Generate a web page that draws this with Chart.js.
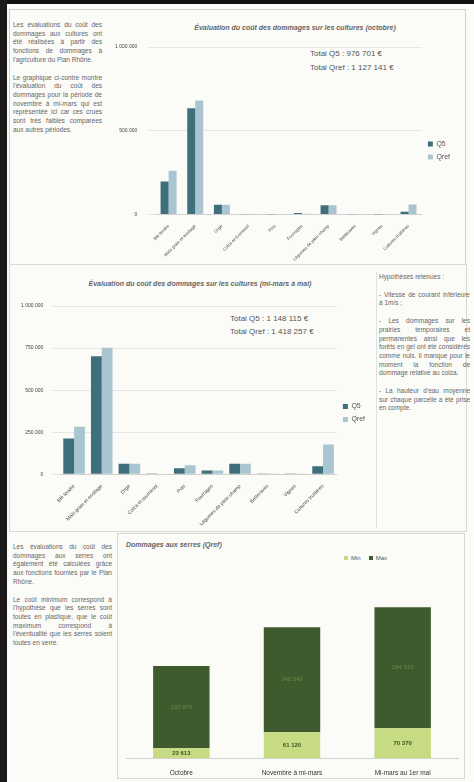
<!DOCTYPE html>
<html><head><meta charset="utf-8">
<script src="https://cdn.jsdelivr.net/npm/chart.js@4"></script>
<style>
html,body{margin:0;padding:0;background:#fbfbf8;}
body{width:474px;height:782px;position:relative;overflow:hidden;font-family:"Liberation Sans",Arial,sans-serif;}
.abs{position:absolute;}
.txt{font-size:6.5px;line-height:8.7px;color:#666;text-align:justify;}
.txt p{margin:0 0 9px 0;}
.title{font-size:7px;font-weight:bold;font-style:italic;color:#666;white-space:nowrap;}
.tot{font-size:8px;color:#555;line-height:14px;white-space:nowrap;}
.leg{font-size:6px;color:#555;white-space:nowrap;}
.leg span.b{display:inline-block;width:4px;height:4px;margin:0 3px 0 8px;vertical-align:middle;}
canvas{position:absolute;}
</style></head>
<body>
<div class="abs" style="left:0;top:0;width:474px;height:4px;background:#111"></div>
<div class="abs" style="left:0;top:0;width:7px;height:782px;background:#1a1a1a"></div>
<div class="abs" style="left:9px;top:9px;width:455px;height:254px;border:1px solid #cfcfcf"></div>
<div class="abs" style="left:9px;top:264px;width:456px;height:266px;border:1px solid #d8d8d8"></div>
<div class="abs" style="left:376px;top:272px;width:0;height:256px;border-left:1px solid #e0e0e0"></div>
<div class="abs" style="left:117px;top:533px;width:346px;height:244px;border:1px solid #d8d8d8"></div>

<div class="abs txt" style="left:13px;top:21px;width:89px;">
<p>Les évaluations du coût des dommages aux cultures ont été réalisées à partir des fonctions de dommages à l'agriculture du Plan Rhône.</p>
<p>Le graphique ci-contre montre l'évaluation du coût des dommages pour la période de novembre à mi-mars qui est représentée ici car ces crues sont très faibles comparées aux autres périodes.</p>
</div>
<div class="abs txt" style="left:379px;top:273px;width:91px;">
<p>Hypothèses retenues :</p>
<p>- Vitesse de courant inférieure à 1m/s ;</p>
<p>- Les dommages sur les prairies temporaires et permanentes ainsi que les forêts en gel ont été considérés comme nuls. Il manque pour le moment la fonction de dommage relative au colza.</p>
<p>- La hauteur d'eau moyenne sur chaque parcelle a été prise en compte.</p>
</div>
<div class="abs txt" style="left:13px;top:543px;width:99px;">
<p>Les évaluations du coût des dommages aux serres ont également été calculées grâce aux fonctions fournies par le Plan Rhône.</p>
<p>Le coût minimum correspond à l'hypothèse que les serres sont toutes en plastique, que le coût maximum correspond à l'éventualité que les serres soient toutes en verre.</p>
</div>

<div class="abs title" style="left:155px;top:24px;width:280px;text-align:center;">Évaluation du coût des dommages sur les cultures (octobre)</div>
<div class="abs tot" style="left:310px;top:47px;">Total Q5 : 976 701 €<br>Total Qref : 1 127 141 €</div>
<div class="abs title" style="left:45px;top:280px;width:310px;text-align:center;">Évaluation du coût des dommages sur les cultures (mi-mars à mai)</div>
<div class="abs tot" style="left:230px;top:312px;line-height:13px;">Total Q5 : 1 148 115 €<br>Total Qref : 1 418 257 €</div>
<div class="abs title" style="left:126px;top:541px;">Dommages aux serres (Qref)</div>
<div class="abs leg" id="leg3" style="left:336px;top:555px;"></div>

<canvas id="c1" width="357" height="229" style="left:105px;top:34px"></canvas>
<canvas id="c2" width="365" height="234" style="left:12px;top:294px"></canvas>
<canvas id="c3" width="346" height="228" style="left:118px;top:554px"></canvas>

<script>
const cultures = ["Blé tendre","Maïs grain et ensilage","Orge","Colza et tournesol","Pois","Fourrages","Légumes de plein champ","Betteraves","Vignes","Cultures fruitières"];
const octQ5   = [198000, 634000, 58000, 2000, 1000, 10000, 55000, 1500, 1000, 16200];
const octQref = [262000, 680000, 58000, 2500, 1500,  5000, 55000, 1500, 1500, 60100];
const marsQ5   = [213000, 701000, 63000, 2000, 35000, 22000, 63000, 1000, 1000, 47115];
const marsQref = [282000, 752000, 63000, 2500, 53000, 22000, 63000, 1500, 2000, 177257];
const periodes = ["Octobre","Novembre à mi-mars","Mi-mars au 1er mai"];
const serresMin = [23613, 61120, 70370];
const serresMax = [192870, 246540, 284310];
const seriesNames = ["Q5","Qref"];
const serresNames = ["Min","Max"];
const serresColors = ["#c7dc82","#3f5a2c"];

const cQ5="#3f6e7d", cQref="#a9c5cf";
const fmt = v => v.toLocaleString("fr-FR").replace(/\u202f|\u00a0/g," ");
Chart.defaults.font.family='"Liberation Sans",Arial,sans-serif';
Chart.defaults.color="#555";
Chart.defaults.animation=false;

function barChart(id, q5, qref, step, catPct, ypad, xfont){
  return new Chart(document.getElementById(id),{
    type:"bar",
    data:{labels:cultures,datasets:[
      {label:seriesNames[0],data:q5,backgroundColor:cQ5,categoryPercentage:catPct,barPercentage:1},
      {label:seriesNames[1],data:qref,backgroundColor:cQref,categoryPercentage:catPct,barPercentage:1}]},
    options:{responsive:false,
      layout:{padding:{top:4,right:2,bottom:0,left:0}},
      plugins:{legend:{position:"right",labels:{boxWidth:5,boxHeight:5,font:{size:7},padding:6}},tooltip:{enabled:false}},
      scales:{
        x:{grid:{display:false},border:{color:"#d0d0d0"},ticks:{font:{size:xfont},maxRotation:45,minRotation:45,padding:1,color:"#444"}},
        y:{min:0,max:1000000,ticks:{stepSize:step,font:{size:5},color:"#444",callback:v=>fmt(v),padding:ypad},grid:{color:"#e6e6e6"},border:{display:false}}
      }}
  });
}
barChart("c1",octQ5,octQref,500000,0.6,10,4.4);
barChart("c2",marsQ5,marsQref,250000,0.78,9,5);

document.getElementById("leg3").innerHTML = serresNames.map((n,i)=>
  '<span class="b" style="background:'+serresColors[i]+'"></span>'+n).join("");

const labelPlugin={id:"vals",afterDatasetsDraw(chart){
  const ctx=chart.ctx;ctx.save();ctx.textAlign="center";ctx.textBaseline="middle";
  chart.data.datasets.forEach((ds,i)=>{
    chart.getDatasetMeta(i).data.forEach((bar,j)=>{
      const y=(bar.y+bar.base)/2;
      ctx.font=(i===0?"bold ":"")+"6px Liberation Sans, Arial";
      ctx.fillStyle=i===0?"#3b5526":"#6a8a4e";
      ctx.fillText(fmt(ds.data[j]),bar.x,y);
    });
  });ctx.restore();}};
new Chart(document.getElementById("c3"),{
  type:"bar",
  data:{labels:periodes,datasets:serresNames.map((n,i)=>({
    label:n,data:i===0?serresMin:serresMax,backgroundColor:serresColors[i],categoryPercentage:0.51,barPercentage:1}))},
  options:{responsive:false,
    layout:{padding:{left:8,right:6,top:0,bottom:2}},
    plugins:{legend:{display:false},tooltip:{enabled:false}},
    scales:{
      x:{stacked:true,grid:{display:false},border:{color:"#d0d0d0"},ticks:{font:{size:6.5},color:"#333",padding:3}},
      y:{stacked:true,display:false,min:0,max:480000}
    }},
  plugins:[labelPlugin]
});
</script>
</body></html>
